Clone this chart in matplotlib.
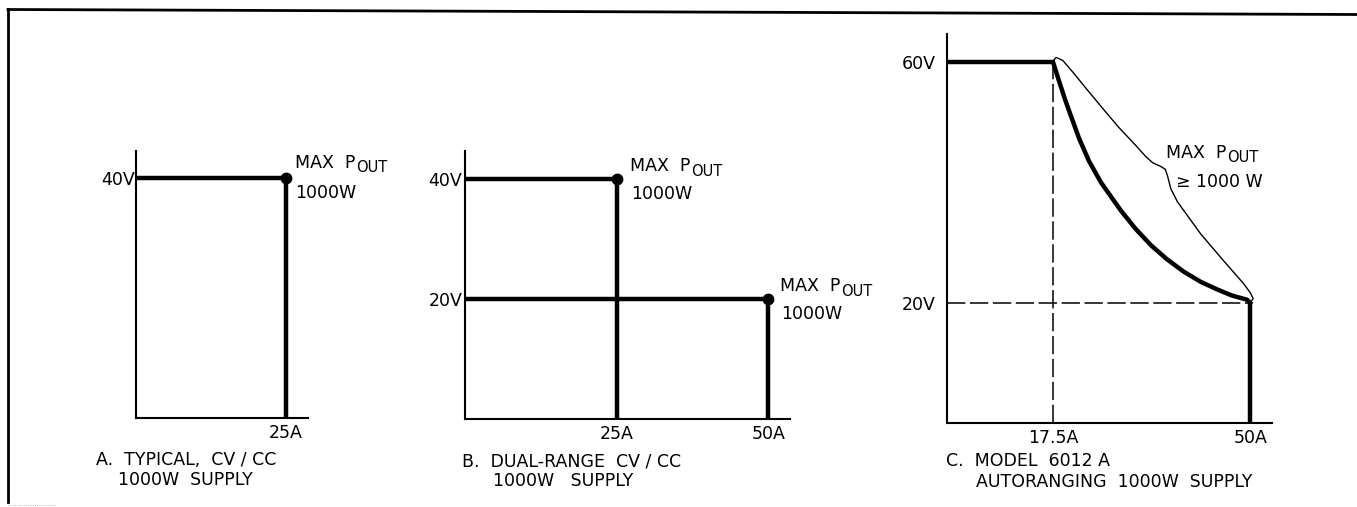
import matplotlib
matplotlib.use("Agg")
import matplotlib.pyplot as plt
from matplotlib.lines import Line2D

# ==========================================
# Data
# ==========================================

# A. typical CV/CC supply
a_volts = 40
a_amps = 25

# B. dual-range supply: (voltage, current) for each range
b_volts = [40, 20]
b_amps = [25, 50]

# C. autoranging supply, operating boundary
c_max_volts = 60
c_knee_amps = 17.5
c_min_volts = 20
c_max_amps = 50
c_curve_amps = [17.5, 18.5, 19.4, 20.5, 21.8, 23.4, 25.4, 28.7, 31.1, 33.6, 36.2, 39.0, 41.8, 44.6, 47.0, 49.5, 50.0]
c_curve_volts = [60.0, 56.8, 54.0, 50.9, 47.3, 43.6, 40.0, 35.3, 32.3, 29.6, 27.3, 25.2, 23.5, 22.2, 21.2, 20.5, 20.0]

# thin "max P_out" envelope
c_env_amps = [17.5, 18.0, 19.1, 20.8, 22.9, 25.7, 28.3, 31.1, 32.8, 33.9, 35.2, 36.0, 36.4, 36.9,
              38.0, 41.8, 45.6, 48.9, 50.0, 50.5, 50.0]
c_env_volts = [60.2, 60.8, 60.3, 58.3, 55.7, 52.3, 49.2, 46.2, 44.3, 43.3, 42.7, 42.2, 41.0, 39.0,
               36.8, 31.5, 27.0, 23.2, 21.7, 20.7, 20.0]

# ==========================================
# Figure
# ==========================================

W, H = 1357, 507
fig = plt.figure(figsize=(W / 100, H / 100), dpi=100)
fig.patch.set_facecolor("white")

FONT = "DejaVu Sans"
FS = 12.5
SUB_FS = 10.5
THICK = 3.2
AXLW = 1.5


def px_axes(x0, y0, x1, y1):
    # pixel box (left, top, right, bottom) -> axes
    return fig.add_axes([x0 / W, 1 - y1 / H, (x1 - x0) / W, (y1 - y0) / H])


def ftext(x, y, s, size=FS):
    return fig.text(x / W, 1 - y / H, s, fontsize=size, family=FONT, va="center", ha="left")


renderer = fig.canvas.get_renderer()


def pout(x, y):
    # "MAX P" with a large, lowered OUT subscript
    t = ftext(x, y, "MAX  P")
    bb = t.get_window_extent(renderer=renderer)
    ftext(bb.x1 + 1, y + 5, "OUT", size=SUB_FS)


def style(ax, xt, xl, yt, yl, ypad):
    for side in ["top", "right"]:
        ax.spines[side].set_visible(False)
    for side in ["left", "bottom"]:
        ax.spines[side].set_linewidth(AXLW)
    ax.set_xticks(xt)
    ax.set_xticklabels(xl, fontsize=FS, family=FONT)
    ax.set_yticks(yt)
    ax.set_yticklabels(yl, fontsize=FS, family=FONT)
    ax.tick_params(axis="x", length=0, pad=4)
    ax.tick_params(axis="y", length=0, pad=ypad)
    ax.patch.set_alpha(0)


# ======================================
# Panel A
# ======================================

ax_a = px_axes(136, 151, 308, 418)
ax_a.set_xlim(0, 28.7)
ax_a.set_ylim(0, 44.5)
ax_a.plot([0, a_amps, a_amps], [a_volts, a_volts, 0], color="black", lw=THICK, solid_capstyle="butt")
ax_a.plot([a_amps], [a_volts], "o", color="black", ms=7.5)
style(ax_a, [a_amps], ["25A"], [a_volts], ["40V"], 1)

pout(295, 163)
ftext(295, 193, "1000W")
ftext(96, 460, "A.  TYPICAL,  CV / CC")
ftext(118, 480, "1000W  SUPPLY")

# ======================================
# Panel B
# ======================================

ax_b = px_axes(465, 151, 790, 419)
ax_b.set_xlim(0, 53.6)
ax_b.set_ylim(0, 44.7)
for v, a in zip(b_volts, b_amps):
    ax_b.plot([0, a, a], [v, v, 0], color="black", lw=THICK, solid_capstyle="butt")
    ax_b.plot([a], [v], "o", color="black", ms=7.5)
style(ax_b, b_amps, [f"{a}A" for a in b_amps], b_volts, [f"{v}V" for v in b_volts], 2)

pout(630, 166)
ftext(631, 194, "1000W")
pout(780, 286)
ftext(781, 314, "1000W")
ftext(462, 461, "B.  DUAL-RANGE  CV / CC")
ftext(493, 481, "1000W   SUPPLY")

# ======================================
# Panel C
# ======================================

ax_c = px_axes(947, 34, 1272, 423)
ax_c.set_xlim(0, 53.6)
ax_c.set_ylim(0, 64.7)
ax_c.plot([0, c_knee_amps], [c_max_volts, c_max_volts], color="black", lw=THICK, solid_capstyle="butt")
ax_c.plot(c_curve_amps, c_curve_volts, color="black", lw=THICK, solid_joinstyle="round")
ax_c.plot([c_max_amps, c_max_amps], [c_min_volts, 0], color="black", lw=THICK, solid_capstyle="butt")
ax_c.plot(c_env_amps, c_env_volts, color="black", lw=1.0, solid_joinstyle="round")
ax_c.plot([c_knee_amps, c_knee_amps], [0, c_max_volts], color="black", lw=1.1, dashes=(12, 3))
ax_c.plot([0, c_max_amps], [c_min_volts, c_min_volts], color="black", lw=1.1, dashes=(12, 3))
style(ax_c, [c_knee_amps, c_max_amps], ["17.5A", "50A"],
      [c_min_volts, c_max_volts], ["20V", "60V"], 8)

pout(1166, 153)
ftext(1176, 182, "\u2265 1000 W")
ftext(946, 461, "C.  MODEL  6012 A")
ftext(976, 482, "AUTORANGING  1000W  SUPPLY")

# ======================================
# Page frame
# ======================================

fig.add_artist(Line2D([8 / W, 8 / W], [1 - 9 / H, 1 - 502 / H], color="black", lw=2.0))
fig.add_artist(Line2D([8 / W, 1], [1 - 9.5 / H, 1 - 14.5 / H], color="black", lw=2.0))
fig.add_artist(Line2D([8 / W, 55 / W], [1 - 505 / H, 1 - 505 / H], color="0.6", lw=0.6, ls=":"))

fig.savefig("out.png", dpi=100, facecolor="white")
